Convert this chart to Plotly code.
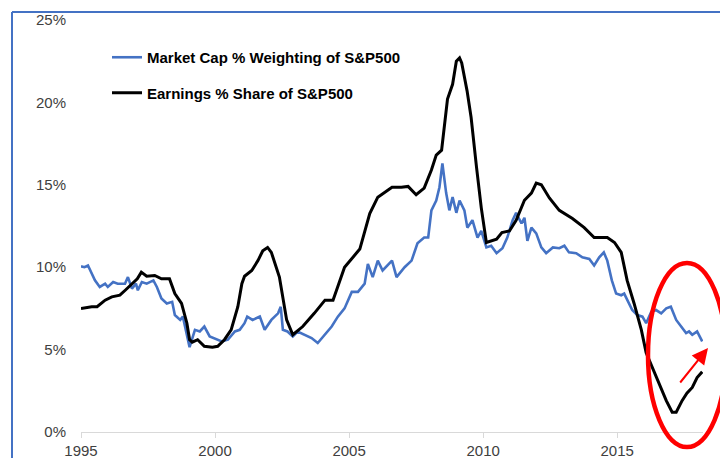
import plotly.graph_objects as go

# Market Cap % Weighting of S&P500 (percent)
mcap_year = [1995.0, 1995.13, 1995.26, 1995.4, 1995.52, 1995.7, 1995.9, 1996.0, 1996.2, 1996.37,
             1996.64, 1996.75, 1996.9, 1997.05, 1997.12, 1997.27, 1997.45, 1997.7, 1997.83, 1998.0,
             1998.2, 1998.4, 1998.5, 1998.7, 1998.8, 1999.05, 1999.25, 1999.43, 1999.6, 1999.8,
             2000.06, 2000.25, 2000.48, 2000.74, 2000.92, 2001.1, 2001.2, 2001.4, 2001.67, 2001.85,
             2002.1, 2002.35, 2002.45, 2002.53, 2002.7, 2002.9, 2003.08, 2003.35, 2003.6, 2003.83,
             2004.1, 2004.35, 2004.58, 2004.83, 2005.1, 2005.33, 2005.58, 2005.7, 2005.88, 2006.07,
             2006.25, 2006.6, 2006.77, 2007.07, 2007.33, 2007.55, 2007.8, 2007.95, 2008.07, 2008.25,
             2008.37, 2008.48, 2008.62, 2008.74, 2008.86, 2009.0, 2009.12, 2009.3, 2009.41, 2009.6,
             2009.79, 2009.93, 2010.12, 2010.3, 2010.5, 2010.72, 2010.9, 2011.1, 2011.23, 2011.43,
             2011.54, 2011.65, 2011.8, 2011.98, 2012.17, 2012.35, 2012.6, 2012.84, 2013.03, 2013.2,
             2013.47, 2013.7, 2013.96, 2014.14, 2014.33, 2014.5, 2014.63, 2014.8, 2014.96, 2015.15,
             2015.26, 2015.37, 2015.56, 2015.75, 2015.94, 2016.08, 2016.27, 2016.45, 2016.64, 2016.83,
             2017.0, 2017.2, 2017.38, 2017.57, 2017.68, 2017.8, 2017.98, 2018.17]
mcap_pct = [10.05, 10.0, 10.1, 9.6, 9.2, 8.8, 9.0, 8.8, 9.1, 9.0,
            9.0, 9.4, 8.7, 9.0, 8.6, 9.1, 9.0, 9.2, 8.8, 8.1,
            7.8, 7.9, 7.1, 6.8, 7.0, 5.15, 6.2, 6.1, 6.4, 5.8,
            5.6, 5.5, 5.6, 6.1, 6.2, 6.6, 7.0, 6.8, 7.0, 6.2,
            6.8, 7.2, 7.6, 6.2, 6.1, 5.8, 6.1, 5.9, 5.7, 5.4,
            5.9, 6.4, 7.0, 7.5, 8.5, 8.5, 9.0, 10.2, 9.4, 10.4,
            9.8, 10.4, 9.4, 10.0, 10.4, 11.45, 11.8, 11.8, 13.45, 14.05,
            14.85, 16.3, 14.5, 13.45, 14.25, 13.3, 14.05, 13.45, 12.4, 12.85,
            11.8, 12.2, 11.2, 11.3, 10.85, 11.15, 11.8, 12.85, 13.3, 12.65,
            13.0, 11.6, 12.4, 12.05, 11.2, 10.85, 11.2, 11.15, 11.3, 10.9,
            10.85, 10.6, 10.5, 10.1, 10.6, 10.9, 10.4, 9.2, 8.4, 8.3,
            8.4, 8.0, 7.4, 7.1, 7.0, 6.6, 7.3, 7.4, 7.2, 7.5,
            7.6, 6.8, 6.4, 6.0, 6.1, 5.9, 6.1, 5.5]

# Earnings % Share of S&P500 (percent)
earn_year = [1995.0, 1995.4, 1995.6, 1995.9, 1996.15, 1996.45, 1996.65, 1996.95, 1997.1, 1997.25,
             1997.45, 1997.75, 1998.0, 1998.3, 1998.5, 1998.75, 1998.95, 1999.05, 1999.15, 1999.35,
             1999.6, 1999.9, 2000.1, 2000.35, 2000.6, 2000.85, 2001.0, 2001.1, 2001.37, 2001.6,
             2001.78, 2001.96, 2002.1, 2002.4, 2002.67, 2002.9, 2003.27, 2003.7, 2004.1, 2004.4,
             2004.83, 2005.4, 2005.77, 2006.07, 2006.6, 2006.95, 2007.2, 2007.5, 2007.8, 2008.07,
             2008.25, 2008.45, 2008.56, 2008.67, 2008.86, 2009.0, 2009.12, 2009.2, 2009.4, 2009.55,
             2009.75, 2009.93, 2010.12, 2010.5, 2010.7, 2010.98, 2011.23, 2011.54, 2011.8, 2011.98,
             2012.17, 2012.47, 2012.84, 2013.33, 2013.77, 2014.14, 2014.63, 2014.9, 2015.15, 2015.37,
             2015.63, 2015.9, 2016.08, 2016.5, 2016.83, 2017.05, 2017.2, 2017.42, 2017.6, 2017.8,
             2017.98, 2018.17]
earn_pct = [7.5, 7.6, 7.6, 8.0, 8.2, 8.3, 8.6, 9.1, 9.3, 9.7,
            9.45, 9.5, 9.3, 9.3, 8.4, 7.8, 6.6, 5.6, 5.45, 5.6,
            5.2, 5.15, 5.2, 5.6, 6.2, 7.6, 9.0, 9.45, 9.8, 10.4,
            11.0, 11.2, 10.9, 9.4, 6.8, 5.9, 6.4, 7.2, 8.0, 8.0,
            10.0, 11.1, 13.25, 14.25, 14.85, 14.85, 14.9, 14.4, 14.8, 15.9,
            16.8, 17.1, 18.7, 20.2, 21.1, 22.5, 22.7, 22.4, 20.7, 19.1,
            16.1, 13.6, 11.5, 11.7, 12.1, 12.2, 12.85, 14.06, 14.5, 15.1,
            15.0, 14.2, 13.45, 12.95, 12.4, 11.8, 11.8, 11.5, 10.9, 9.2,
            7.8, 6.2, 4.8, 3.15, 1.9, 1.2, 1.2, 1.9, 2.35, 2.7,
            3.3, 3.65]

x_ticks = [1995, 2000, 2005, 2010, 2015]
y_ticks = [0, 5, 10, 15, 20, 25]
y_labels = [f"{v}%" for v in y_ticks]

# the page body adds an 8px offset; the figure fills the rest of the window
OFF = 8
W, H = 728 - OFF, 458 - OFF
ML, MR, MT, MB = 81 - OFF, 25, 20 - OFF, 26
PW, PH = W - ML - MR, H - MT - MB


def px(xp):  # window pixel -> paper x
    return (xp - OFF - ML) / PW


def py(yp):  # window pixel -> paper y
    return (H - MB - (yp - OFF)) / PH


FONT = "Liberation Sans, Arial, sans-serif"
BLUE = "#4472C4"

fig = go.Figure()
fig.add_trace(go.Scatter(x=mcap_year, y=mcap_pct, mode="lines",
                         name="Market Cap % Weighting of S&P500",
                         legendgroup="a",
                         line=dict(color=BLUE, width=2.6)))
fig.add_trace(go.Scatter(x=earn_year, y=earn_pct, mode="lines",
                         name="Earnings % Share of S&P500",
                         legendgroup="b",
                         line=dict(color="black", width=3)))

fig.update_layout(
    width=W, height=H,
    margin=dict(l=ML, r=MR, t=MT, b=MB, autoexpand=False),
    paper_bgcolor="white", plot_bgcolor="white",
    font=dict(family=FONT, size=15, color="#404040"),
    showlegend=True,
    legend=dict(x=px(107), y=py(41), xanchor="left", yanchor="top",
                bgcolor="rgba(0,0,0,0)", tracegroupgap=13,
                font=dict(family=FONT, size=15, color="black", weight="bold"),
                itemwidth=30),
    xaxis=dict(range=[1995, 2018.2], tickvals=x_ticks, showgrid=False,
               showline=True, linecolor="#d9d9d9", linewidth=1,
               ticks="outside", ticklen=5, tickcolor="#d9d9d9", automargin=False,
               zeroline=False, tickfont=dict(size=15, color="#404040")),
    yaxis=dict(range=[0, 25], tickvals=y_ticks, ticktext=y_labels, automargin=False,
               showgrid=False, showline=False, zeroline=False, ticks="",
               ticklabelstandoff=14, tickfont=dict(size=15, color="#404040")),
    shapes=[
        dict(type="rect", xref="paper", yref="paper", x0=-0.2, x1=1.1,
             y0=py(12), y1=py(-5), fillcolor="white", line=dict(width=0), layer="above"),
        dict(type="line", xref="paper", yref="paper", x0=px(12), x1=px(730),
             y0=py(12), y1=py(12), line=dict(color=BLUE, width=2), layer="above"),
        dict(type="line", xref="paper", yref="paper", x0=px(12), x1=px(12),
             y0=py(12), y1=py(460), line=dict(color=BLUE, width=2), layer="above"),
        dict(type="circle", xref="paper", yref="paper", x0=px(648), x1=px(726),
             y0=py(447), y1=py(263), line=dict(color="#ff0000", width=4.5), layer="above"),
    ],
    annotations=[
        dict(xref="paper", yref="paper", x=px(708), y=py(348), ax=-29, ay=36,
             text="", showarrow=True, arrowhead=2, arrowsize=1.6, arrowwidth=2,
             arrowcolor="#ff0000"),
    ],
)

fig.write_html("out.html")
